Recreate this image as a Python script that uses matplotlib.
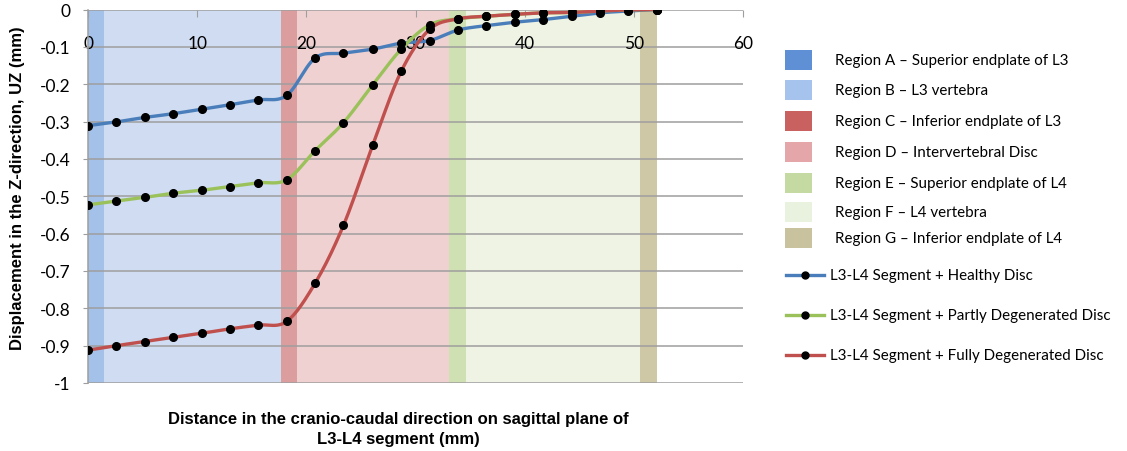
import numpy as np
import matplotlib
matplotlib.use("Agg")
import matplotlib.pyplot as plt
from matplotlib.patches import Rectangle
from matplotlib.lines import Line2D

# ---------------- data ----------------
distance = [0, 2.6, 5.2, 7.8, 10.4, 13.0, 15.6, 18.2, 20.8, 23.4, 26.1,
            28.7, 31.3, 33.9, 36.5, 39.1, 41.7, 44.3, 46.9, 49.5, 52.1]

healthy = [-0.311, -0.301, -0.289, -0.279, -0.267, -0.255, -0.242, -0.230,
           -0.130, -0.117, -0.106, -0.090, -0.083, -0.055, -0.043, -0.034,
           -0.027, -0.018, -0.009, -0.004, 0.0]
partly = [-0.523, -0.513, -0.503, -0.492, -0.484, -0.474, -0.464, -0.456,
          -0.378, -0.303, -0.201, -0.106, -0.041, -0.025, -0.018, -0.013,
          -0.009, -0.008, -0.004, -0.001, 0.0]
fully = [-0.912, -0.900, -0.889, -0.878, -0.867, -0.855, -0.845, -0.835,
         -0.733, -0.578, -0.362, -0.165, -0.053, -0.025, -0.018, -0.013,
         -0.009, -0.008, -0.004, -0.001, 0.0]

region_labels = ["Region A \u2013 Superior endplate of L3",
                 "Region B \u2013 L3 vertebra",
                 "Region C \u2013 Inferior endplate of L3",
                 "Region D \u2013 Intervertebral Disc",
                 "Region E \u2013 Superior endplate of L4",
                 "Region F \u2013 L4 vertebra",
                 "Region G \u2013 Inferior endplate of L4"]
region_bounds = [0.0, 1.5, 17.7, 19.1, 33.1, 34.6, 50.6, 52.1]

series_labels = ["L3-L4 Segment + Healthy Disc",
                 "L3-L4 Segment + Partly Degenerated Disc",
                 "L3-L4 Segment + Fully Degenerated Disc"]

x_ticks = [0, 10, 20, 30, 40, 50, 60]
y_ticks = [0, -0.1, -0.2, -0.3, -0.4, -0.5, -0.6, -0.7, -0.8, -0.9, -1]
y_tick_labels = ["0", "-0.1", "-0.2", "-0.3", "-0.4", "-0.5", "-0.6",
                 "-0.7", "-0.8", "-0.9", "-1"]

# ---------------- style ----------------
band_colors = ["#a4c1ea", "#cfdcf2", "#dc9d9e", "#f0d1d2", "#cfe0b2",
               "#eef3e3", "#cec8a6"]
legend_patch_colors = ["#5f8fd5", "#a5c3ec", "#c8615f", "#e4a6a8",
                       "#c5d9a2", "#e9f1df", "#c8c29f"]
line_colors = ["#4a7ebb", "#9bc25a", "#c0504d"]

tick_font = "Lato"
label_font = "Liberation Sans"


def smooth(x, y, n=24):
    """Excel-like smoothed line (Catmull-Rom Bezier) through the points."""
    x = np.asarray(x, float)
    y = np.asarray(y, float)
    px = np.concatenate([[x[0]], x, [x[-1]]])
    py = np.concatenate([[y[0]], y, [y[-1]]])
    xs, ys = [], []
    t = np.linspace(0, 1, n)
    for i in range(1, len(px) - 2):
        p0 = np.array([px[i], py[i]])
        p3 = np.array([px[i + 1], py[i + 1]])
        c1 = p0 + (np.array([px[i + 1], py[i + 1]]) - np.array([px[i - 1], py[i - 1]])) / 6
        c2 = p3 - (np.array([px[i + 2], py[i + 2]]) - np.array([px[i], py[i]])) / 6
        b = ((1 - t) ** 3)[:, None] * p0 + (3 * (1 - t) ** 2 * t)[:, None] * c1 \
            + (3 * (1 - t) * t ** 2)[:, None] * c2 + (t ** 3)[:, None] * p3
        xs.extend(b[:, 0])
        ys.extend(b[:, 1])
    return np.array(xs), np.array(ys)


fig = plt.figure(figsize=(11.27, 4.52), dpi=100)
ax = fig.add_axes([88 / 1127, 1 - 384 / 452, (743 - 88) / 1127, (384 - 10.5) / 452])

# region bands
for i, c in enumerate(band_colors):
    ax.axvspan(region_bounds[i], region_bounds[i + 1], color=c, lw=0, zorder=0)

# gridlines
for yv in y_ticks:
    ax.axhline(yv, color="#9e9e9e", lw=1.1, zorder=1)

# series
for yvals, col in zip([healthy, partly, fully], line_colors):
    sx, sy = smooth(distance, yvals)
    ax.plot(sx, sy, color=col, lw=2.4, zorder=3, solid_capstyle="round")
    ax.plot(distance, yvals, ls="none", marker="o", ms=5.5, mfc="black",
            mec="black", zorder=4)

ax.set_xlim(0, 60)
ax.set_ylim(-1, 0)
for s in ["top", "right", "bottom"]:
    ax.spines[s].set_visible(False)
ax.spines["left"].set_color("#9e9e9e")
ax.spines["left"].set_linewidth(1.1)

ax.set_yticks(y_ticks)
ax.set_yticklabels(y_tick_labels, fontsize=12.5, family=tick_font)
ax.tick_params(axis="y", length=3.5, color="#9e9e9e", pad=9)

# x axis drawn along y=0 (top), labels inside the plot below the line
ax.xaxis.tick_top()
ax.set_xticks(x_ticks)
ax.set_xticklabels([str(v) for v in x_ticks], fontsize=12.5, family=tick_font)
ax.tick_params(axis="x", direction="in", length=5, color="#9e9e9e", pad=-30)

fig.text(398 / 1127, 1 - 420 / 452, "Distance in the cranio-caudal direction on sagittal plane of",
         ha="center", va="center", fontsize=12, fontweight="bold", family=label_font)
fig.text(398 / 1127, 1 - 440 / 452, "L3-L4 segment (mm)",
         ha="center", va="center", fontsize=12, fontweight="bold", family=label_font)
fig.text(18 / 1127, 1 - 188 / 452, "Displacement in the Z-direction, UZ (mm)",
         ha="center", va="center", rotation=90, fontsize=12, fontweight="bold",
         family=label_font)

# legend (drawn manually to match layout)
W, H = 1127, 452
row_y = [61, 91, 122, 153, 184, 213, 239]
for yy, pc, lab in zip(row_y, legend_patch_colors, region_labels):
    fig.add_artist(Rectangle((785 / W, 1 - (yy + 10) / H), 27 / W, 20 / H,
                             transform=fig.transFigure, color=pc, lw=0))
    fig.text(835 / W, 1 - yy / H, lab, ha="left", va="center",
             fontsize=10.9, family=tick_font)

line_rows = [276, 316, 356]
for yy, col, lab in zip(line_rows, line_colors, series_labels):
    fig.add_artist(Line2D([786 / W, 824 / W], [1 - yy / H, 1 - yy / H],
                          transform=fig.transFigure, color=col, lw=2.4))
    fig.add_artist(Line2D([805 / W], [1 - yy / H], transform=fig.transFigure,
                          marker="o", ms=5, color="black", ls="none"))
    fig.text(830 / W, 1 - yy / H, lab, ha="left", va="center",
             fontsize=10.9, family=tick_font)

fig.savefig("out.png", dpi=100, facecolor="white")
